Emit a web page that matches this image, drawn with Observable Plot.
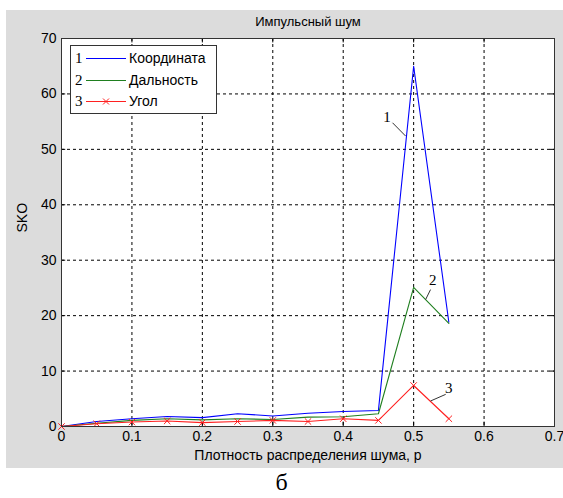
<!DOCTYPE html>
<html><head><meta charset="utf-8">
<script src="https://cdn.jsdelivr.net/npm/d3@7"></script>
<script src="https://cdn.jsdelivr.net/npm/@observablehq/plot@0.6"></script>
<style>
body{margin:0;background:#fff;}
#wrap{position:relative;width:563px;height:498px;font-family:"Liberation Sans",Arial,sans-serif;overflow:hidden;}
#bg{position:absolute;left:6px;top:10px;width:557px;height:458px;background:#dcdcdc;}
#chart{position:absolute;left:0;top:0;}
#legend{position:absolute;left:70px;top:45px;width:145px;height:67px;background:#fff;border:1px solid #333;font-size:14px;color:#000;}
#legend .row{position:absolute;left:0;height:16px;line-height:16px;width:145px;}
#legend .num{position:absolute;left:4px;}
#legend svg{position:absolute;left:15px;top:0;}
#legend .lab{position:absolute;left:58px;}
#caption{position:absolute;left:0;width:563px;top:468px;text-align:center;font-family:"Liberation Serif","Times New Roman",serif;font-size:24px;line-height:28px;}
</style></head><body>
<div id="wrap"><div id="bg"></div><div id="chart"></div><div id="legend"></div><div id="caption">б</div></div>
<script>
// data
const p      = [0, 0.05, 0.1, 0.15, 0.2, 0.25, 0.3, 0.35, 0.4, 0.45, 0.5, 0.55];
const coord  = [0, 0.9, 1.4, 1.8, 1.6, 2.3, 1.9, 2.4, 2.7, 2.9, 65, 18.8];
const range  = [0, 0.6, 1.1, 1.4, 1.2, 1.4, 1.25, 1.7, 1.75, 2.3, 25.1, 18.6];
const angle  = [0, 0.5, 0.8, 1.0, 0.7, 0.9, 1.1, 0.9, 1.4, 1.1, 7.4, 1.4];
const seriesNames = ["Координата", "Дальность", "Угол"];
const seriesColors = ["#0000ff", "#1f7f1f", "#ff2020"];
const xTicks = [0, 0.1, 0.2, 0.3, 0.4, 0.5, 0.6, 0.7];
const yTicks = [0, 10, 20, 30, 40, 50, 60, 70];
const titleText = "Импульсный шум";
const xLabel = "Плотность распределения шума, р";
const yLabel = "SKO";
// annotation labels: number, text position, leader start, leader end (data units)
const annLabels = ["1", "2", "3"];
const annTextX = [0.462, 0.527, 0.550];
const annTextY = [55.8, 26.4, 6.9];
const annX1 = [0.470, 0.524, 0.5455];
const annY1 = [54.8, 24.7, 5.8];
const annX2 = [0.4886, 0.517, 0.524];
const annY2 = [52.4, 22.9, 4.6];

const rows = [];
[coord, range, angle].forEach((arr, s) => arr.forEach((v, i) => rows.push({p: p[i], v, s})));
const ann = annLabels.map((t, i) => ({t, x: annTextX[i], y: annTextY[i], x1: annX1[i], y1: annY1[i], x2: annX2[i], y2: annY2[i]}));
const FONT = "Liberation Sans, Arial, sans-serif";

const chart = Plot.plot({
  width: 563, height: 498,
  marginLeft: 61, marginRight: 9, marginTop: 38, marginBottom: 72,
  style: {background: "transparent", fontFamily: FONT, fontSize: "14px", color: "#000", overflow: "visible"},
  x: {domain: [0, 0.7], ticks: xTicks},
  y: {domain: [0, 70], ticks: yTicks},
  marks: [
    Plot.frame({fill: "white", stroke: "none"}),
    Plot.gridX(xTicks, {stroke: "#000", strokeOpacity: 1, strokeDasharray: "3,3"}),
    Plot.gridY(yTicks, {stroke: "#000", strokeOpacity: 1, strokeDasharray: "3,3"}),
    Plot.ruleX(xTicks, {y1: 0, y2: 0.8, stroke: "#000"}),
    Plot.ruleX(xTicks, {y1: 70, y2: 69.2, stroke: "#000"}),
    Plot.ruleY(yTicks, {x1: 0, x2: 0.006, stroke: "#000"}),
    Plot.ruleY(yTicks, {x1: 0.7, x2: 0.694, stroke: "#000"}),
    Plot.axisX(xTicks, {tickSize: 0, tickPadding: 5, fontSize: 14, label: null, tickFormat: d => String(d)}),
    Plot.axisY(yTicks, {tickSize: 0, tickPadding: 5, fontSize: 14, label: null}),
    Plot.line(rows, {x: "p", y: "v", z: "s", stroke: d => seriesColors[d.s], strokeWidth: 1.1}),
    Plot.dot(rows.filter(d => d.s === 2), {x: "p", y: "v", symbol: "times", r: 3, stroke: seriesColors[2], strokeWidth: 1}),
    Plot.link(ann, {x1: "x1", y1: "y1", x2: "x2", y2: "y2", stroke: "#333", strokeWidth: 1}),
    Plot.text(ann, {x: "x", y: "y", text: "t", fontFamily: "Liberation Serif, Times New Roman, serif", fontSize: 15, fill: "#000"}),
    Plot.frame({stroke: "#333", strokeWidth: 1}),
    Plot.text([titleText], {frameAnchor: "top", dy: -22, fontSize: 13, fill: "#000"}),
    Plot.text([xLabel], {frameAnchor: "bottom", dy: 33, fontSize: 14, fill: "#000"}),
    Plot.text([yLabel], {frameAnchor: "left", dx: -39, rotate: -90, fontSize: 14, fill: "#000"})
  ]
});
document.getElementById("chart").appendChild(chart);

// legend
const leg = document.getElementById("legend");
seriesNames.forEach((name, i) => {
  const row = document.createElement("div");
  row.className = "row";
  row.style.top = (4 + i * 21.5) + "px";
  const lineSvg = `<svg width="40" height="16"><line x1="0" x2="40" y1="8.5" y2="8.5" stroke="${seriesColors[i]}" stroke-width="1.2"/>` +
    (i === 2 ? `<path d="M17,5.5L23,11.5M23,5.5L17,11.5" stroke="${seriesColors[i]}" stroke-width="1"/>` : "") + `</svg>`;
  row.innerHTML = `<span class="num" style="font-family:'Liberation Serif',serif;font-size:15px">${i + 1}</span>${lineSvg}<span class="lab">${name}</span>`;
  leg.appendChild(row);
});
</script>
</body></html>
